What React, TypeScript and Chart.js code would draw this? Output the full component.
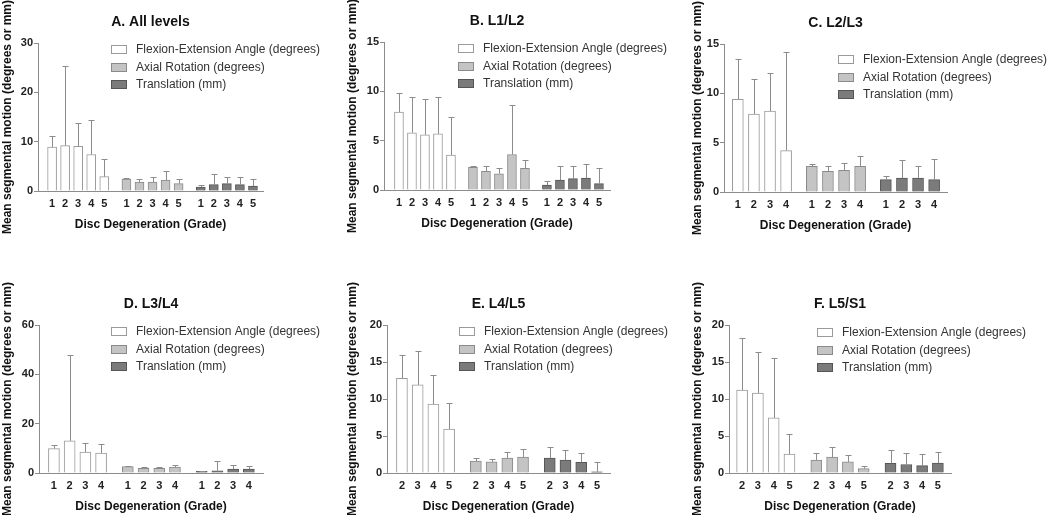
import { useEffect, useRef } from 'react';
import { Chart, registerables, type Plugin, type ChartOptions } from 'chart.js';

Chart.register(...registerables);

const FONT = '"Liberation Sans", Arial, Helvetica, sans-serif';

// series shared by every panel
const seriesNames = ['Flexion-Extension Angle (degrees)', 'Axial Rotation (degrees)', 'Translation (mm)'];
const fills = ['#ffffff', '#c4c4c4', '#7b7b7b'];
const borders = ['#9a9a9a', '#8a8a8a', '#555555'];

// grade categories
const grades15 = ['1', '2', '3', '4', '5'];
const grades14 = ['1', '2', '3', '4'];
const grades25 = ['2', '3', '4', '5'];

// A. All levels
const flexA = [8.9, 9.2, 9.05, 7.4, 2.9];
const flexSdA = [2.3, 16.1, 4.7, 7.0, 3.6];
const axialA = [2.4, 1.8, 1.8, 2.2, 1.5];
const axialSdA = [0.2, 0.6, 1.0, 1.9, 0.9];
const transA = [0.8, 1.3, 1.5, 1.3, 1.0];
const transSdA = [0.4, 2.1, 1.4, 1.6, 1.4];

// B. L1/L2
const flexB = [7.9, 5.8, 5.6, 5.7, 3.55];
const flexSdB = [1.9, 3.6, 3.6, 3.7, 3.85];
const axialB = [2.3, 1.9, 1.65, 3.6, 2.2];
const axialSdB = [0.1, 0.5, 0.55, 5.0, 0.8];
const transB = [0.5, 1.0, 1.15, 1.2, 0.65];
const transSdB = [0.4, 1.4, 1.3, 1.4, 1.55];

// C. L2/L3
const flexC = [9.4, 7.9, 8.2, 4.2];
const flexSdC = [4.1, 3.6, 3.85, 9.95];
const axialC = [2.6, 2.1, 2.2, 2.6];
const axialSdC = [0.2, 0.55, 0.7, 1.05];
const transC = [1.25, 1.4, 1.4, 1.25];
const transSdC = [0.35, 1.85, 1.2, 2.1];

// D. L3/L4
const flexD = [9.9, 13.0, 8.5, 8.1];
const flexSdD = [1.6, 34.7, 3.5, 3.5];
const axialD = [2.6, 1.9, 1.9, 2.4];
const axialSdD = [0.2, 0.5, 0.5, 0.8];
const transD = [0.7, 0.9, 1.6, 1.6];
const transSdD = [0.2, 4.0, 1.6, 1.4];

// E. L4/L5
const flexE = [12.8, 11.9, 9.3, 5.95];
const flexSdE = [3.15, 4.6, 4.0, 3.45];
const axialE = [1.6, 1.5, 2.0, 2.15];
const axialSdE = [0.45, 0.45, 0.9, 1.05];
const transE = [2.0, 1.75, 1.45, 0.15];
const transSdE = [1.45, 1.4, 1.25, 1.35];

// F. L5/S1
const flexF = [11.2, 10.8, 7.45, 2.55];
const flexSdF = [7.1, 5.6, 8.15, 2.75];
const axialF = [1.75, 2.15, 1.5, 0.6];
const axialSdF = [0.95, 1.35, 0.9, 0.3];
const transF = [1.3, 1.15, 1.0, 1.35];
const transSdF = [1.75, 1.55, 1.6, 1.5];

type PanelProps = {
  title: string;
  grades: string[];
  means: number[][];
  sds: number[][];
  yMax: number;
  yStep: number;
  box: { left: number; top: number; w: number; h: number };
  plot: { l: number; t: number; r: number; b: number };
  stride: number;
  marginL: number;
  marginR: number;
  bar: number;
  legend: { x: number; y: number };
};

const Panel = (p: PanelProps) => {
  const canvasRef = useRef<HTMLCanvasElement | null>(null);

  useEffect(() => {
    if (!canvasRef.current) return;
    const n = p.grades.length;
    const positions: number[] = [];
    for (let g = 0; g < 3; g++) for (let i = 0; i < n; i++) positions.push(g * p.stride + i);
    const tickLabels = [...p.grades, ...p.grades, ...p.grades];

    const datasets = p.means.map((vals, g) => ({
      label: seriesNames[g],
      data: vals.map((v, i) => ({ x: g * p.stride + i, y: v })),
      sd: p.sds[g],
      backgroundColor: fills[g],
      borderColor: borders[g],
      borderWidth: 1,
      barThickness: p.bar,
      grouped: false,
    }));

    const errorBars: Plugin<'bar'> = {
      id: 'errorBars',
      afterDatasetsDraw(chart) {
        const { ctx } = chart;
        const yScale = chart.scales.y;
        ctx.save();
        ctx.strokeStyle = '#8c8c8c';
        ctx.lineWidth = 1;
        chart.data.datasets.forEach((ds: any, di) => {
          const meta = chart.getDatasetMeta(di);
          meta.data.forEach((el: any, i) => {
            const top = Math.round(yScale.getPixelForValue(ds.data[i].y + ds.sd[i])) + 0.5;
            const x = Math.round(el.x) + 0.5;
            ctx.beginPath();
            ctx.moveTo(x, el.y);
            ctx.lineTo(x, top);
            ctx.moveTo(x - 3, top);
            ctx.lineTo(x + 3, top);
            ctx.stroke();
          });
        });
        ctx.restore();
      },
    };

    const decor: Plugin<'bar'> = {
      id: 'decor',
      afterDraw(chart) {
        const { ctx, chartArea } = chart;
        ctx.save();
        ctx.font = `bold 14px ${FONT}`;
        ctx.fillStyle = '#111';
        ctx.textAlign = 'center';
        ctx.textBaseline = 'middle';
        ctx.fillText(p.title, (chartArea.left + chartArea.right) / 2, chartArea.top - 21);
        ctx.font = `12px ${FONT}`;
        ctx.textAlign = 'left';
        ctx.lineWidth = 1;
        seriesNames.forEach((name, k) => {
          const yy = Math.round(p.legend.y + k * 17.5);
          ctx.fillStyle = fills[k];
          ctx.fillRect(p.legend.x + 0.5, yy - 4.5, 15, 8);
          ctx.strokeStyle = borders[k];
          ctx.strokeRect(p.legend.x + 0.5, yy - 4.5, 15, 8);
          ctx.fillStyle = '#333';
          ctx.fillText(name, p.legend.x + 25, yy);
        });
        ctx.restore();
      },
    };

    const xHeight = p.box.h - p.plot.b;
    const options: ChartOptions<'bar'> = {
      responsive: true,
      maintainAspectRatio: false,
      animation: false,
      layout: { padding: { left: 0, top: p.plot.t, right: p.box.w - p.plot.r, bottom: 0 } },
      plugins: { legend: { display: false }, tooltip: { enabled: false } },
      scales: {
        x: {
          type: 'linear',
          offset: false,
          min: -p.marginL,
          max: 2 * p.stride + n - 1 + p.marginR,
          afterBuildTicks: (scale) => {
            scale.ticks = positions.map((v) => ({ value: v }));
          },
          afterFit: (scale) => {
            scale.height = xHeight;
          },
          grid: { display: false, drawTicks: false },
          border: { display: true, color: '#8c8c8c', width: 1 },
          ticks: {
            autoSkip: false,
            maxRotation: 0,
            padding: 6,
            color: '#222',
            font: { family: FONT, size: 11, weight: 'bold' },
            callback: (_v, i) => tickLabels[i],
          },
          title: {
            display: true,
            text: 'Disc Degeneration (Grade)',
            color: '#111',
            font: { family: FONT, size: 12, weight: 'bold' },
            padding: { top: 0, bottom: Math.max(0, xHeight - 33.5 - 7.2) },
          },
        },
        y: {
          min: 0,
          max: p.yMax,
          afterFit: (scale) => {
            scale.width = p.plot.l;
          },
          grid: { drawOnChartArea: false, drawTicks: true, tickLength: 4, color: '#8c8c8c' },
          border: { display: true, color: '#8c8c8c', width: 1 },
          ticks: {
            stepSize: p.yStep,
            padding: 1,
            color: '#222',
            font: { family: FONT, size: 11, weight: 'bold' },
          },
          title: {
            display: true,
            text: 'Mean segmental motion (degrees or mm)',
            color: '#111',
            font: { family: FONT, size: 12, weight: 'bold' },
            padding: { top: 0, bottom: 0 },
          },
        },
      },
    };

    const chart = new Chart(canvasRef.current, {
      type: 'bar',
      data: { datasets: datasets as any },
      options,
      plugins: [errorBars, decor],
    });

    return () => {
      chart.destroy();
    };
  }, []);

  return (
    <div style={{ position: 'absolute', left: p.box.left, top: p.box.top, width: p.box.w, height: p.box.h }}>
      <canvas ref={canvasRef} />
    </div>
  );
};

const App = () => {
  return (
    <div style={{ position: 'absolute', left: 0, top: 0, width: 1050, height: 515, background: '#fff' }}>
      <Panel
        title="A. All levels"
        grades={grades15}
        means={[flexA, axialA, transA]}
        sds={[flexSdA, axialSdA, transSdA]}
        yMax={30}
        yStep={10}
        box={{ left: 0, top: 0, w: 345, h: 257 }}
        plot={{ l: 38, t: 43, r: 263, b: 191 }}
        stride={5.7}
        marginL={1.08}
        marginR={0.77}
        bar={9}
        legend={{ x: 111, y: 50 }}
      />
      <Panel
        title="B. L1/L2"
        grades={grades15}
        means={[flexB, axialB, transB]}
        sds={[flexSdB, axialSdB, transSdB]}
        yMax={15}
        yStep={5}
        box={{ left: 345, top: 0, w: 345, h: 257 }}
        plot={{ l: 39, t: 42, r: 265, b: 190 }}
        stride={5.69}
        marginL={1.15}
        marginR={0.85}
        bar={9}
        legend={{ x: 113, y: 49 }}
      />
      <Panel
        title="C. L2/L3"
        grades={grades14}
        means={[flexC, axialC, transC]}
        sds={[flexSdC, axialSdC, transSdC]}
        yMax={15}
        yStep={5}
        box={{ left: 690, top: 0, w: 360, h: 257 }}
        plot={{ l: 34, t: 44, r: 257, b: 192 }}
        stride={4.6}
        marginL={0.86}
        marginR={0.8}
        bar={11}
        legend={{ x: 148, y: 60 }}
      />
      <Panel
        title="D. L3/L4"
        grades={grades14}
        means={[flexD, axialD, transD]}
        sds={[flexSdD, axialSdD, transSdD]}
        yMax={60}
        yStep={20}
        box={{ left: 0, top: 258, w: 345, h: 257 }}
        plot={{ l: 39, t: 67, r: 263, b: 215 }}
        stride={4.7}
        marginL={0.95}
        marginR={0.9}
        bar={11}
        legend={{ x: 111, y: 74 }}
      />
      <Panel
        title="E. L4/L5"
        grades={grades25}
        means={[flexE, axialE, transE]}
        sds={[flexSdE, axialSdE, transSdE]}
        yMax={20}
        yStep={5}
        box={{ left: 345, top: 258, w: 345, h: 257 }}
        plot={{ l: 42, t: 67, r: 265, b: 215 }}
        stride={4.7}
        marginL={0.95}
        marginR={0.83}
        bar={11}
        legend={{ x: 114, y: 74 }}
      />
      <Panel
        title="F. L5/S1"
        grades={grades25}
        means={[flexF, axialF, transF]}
        sds={[flexSdF, axialSdF, transSdF]}
        yMax={20}
        yStep={5}
        box={{ left: 690, top: 258, w: 360, h: 257 }}
        plot={{ l: 39, t: 67, r: 261, b: 215 }}
        stride={4.7}
        marginL={0.83}
        marginR={0.83}
        bar={11}
        legend={{ x: 127, y: 75 }}
      />
    </div>
  );
};

export default App;
